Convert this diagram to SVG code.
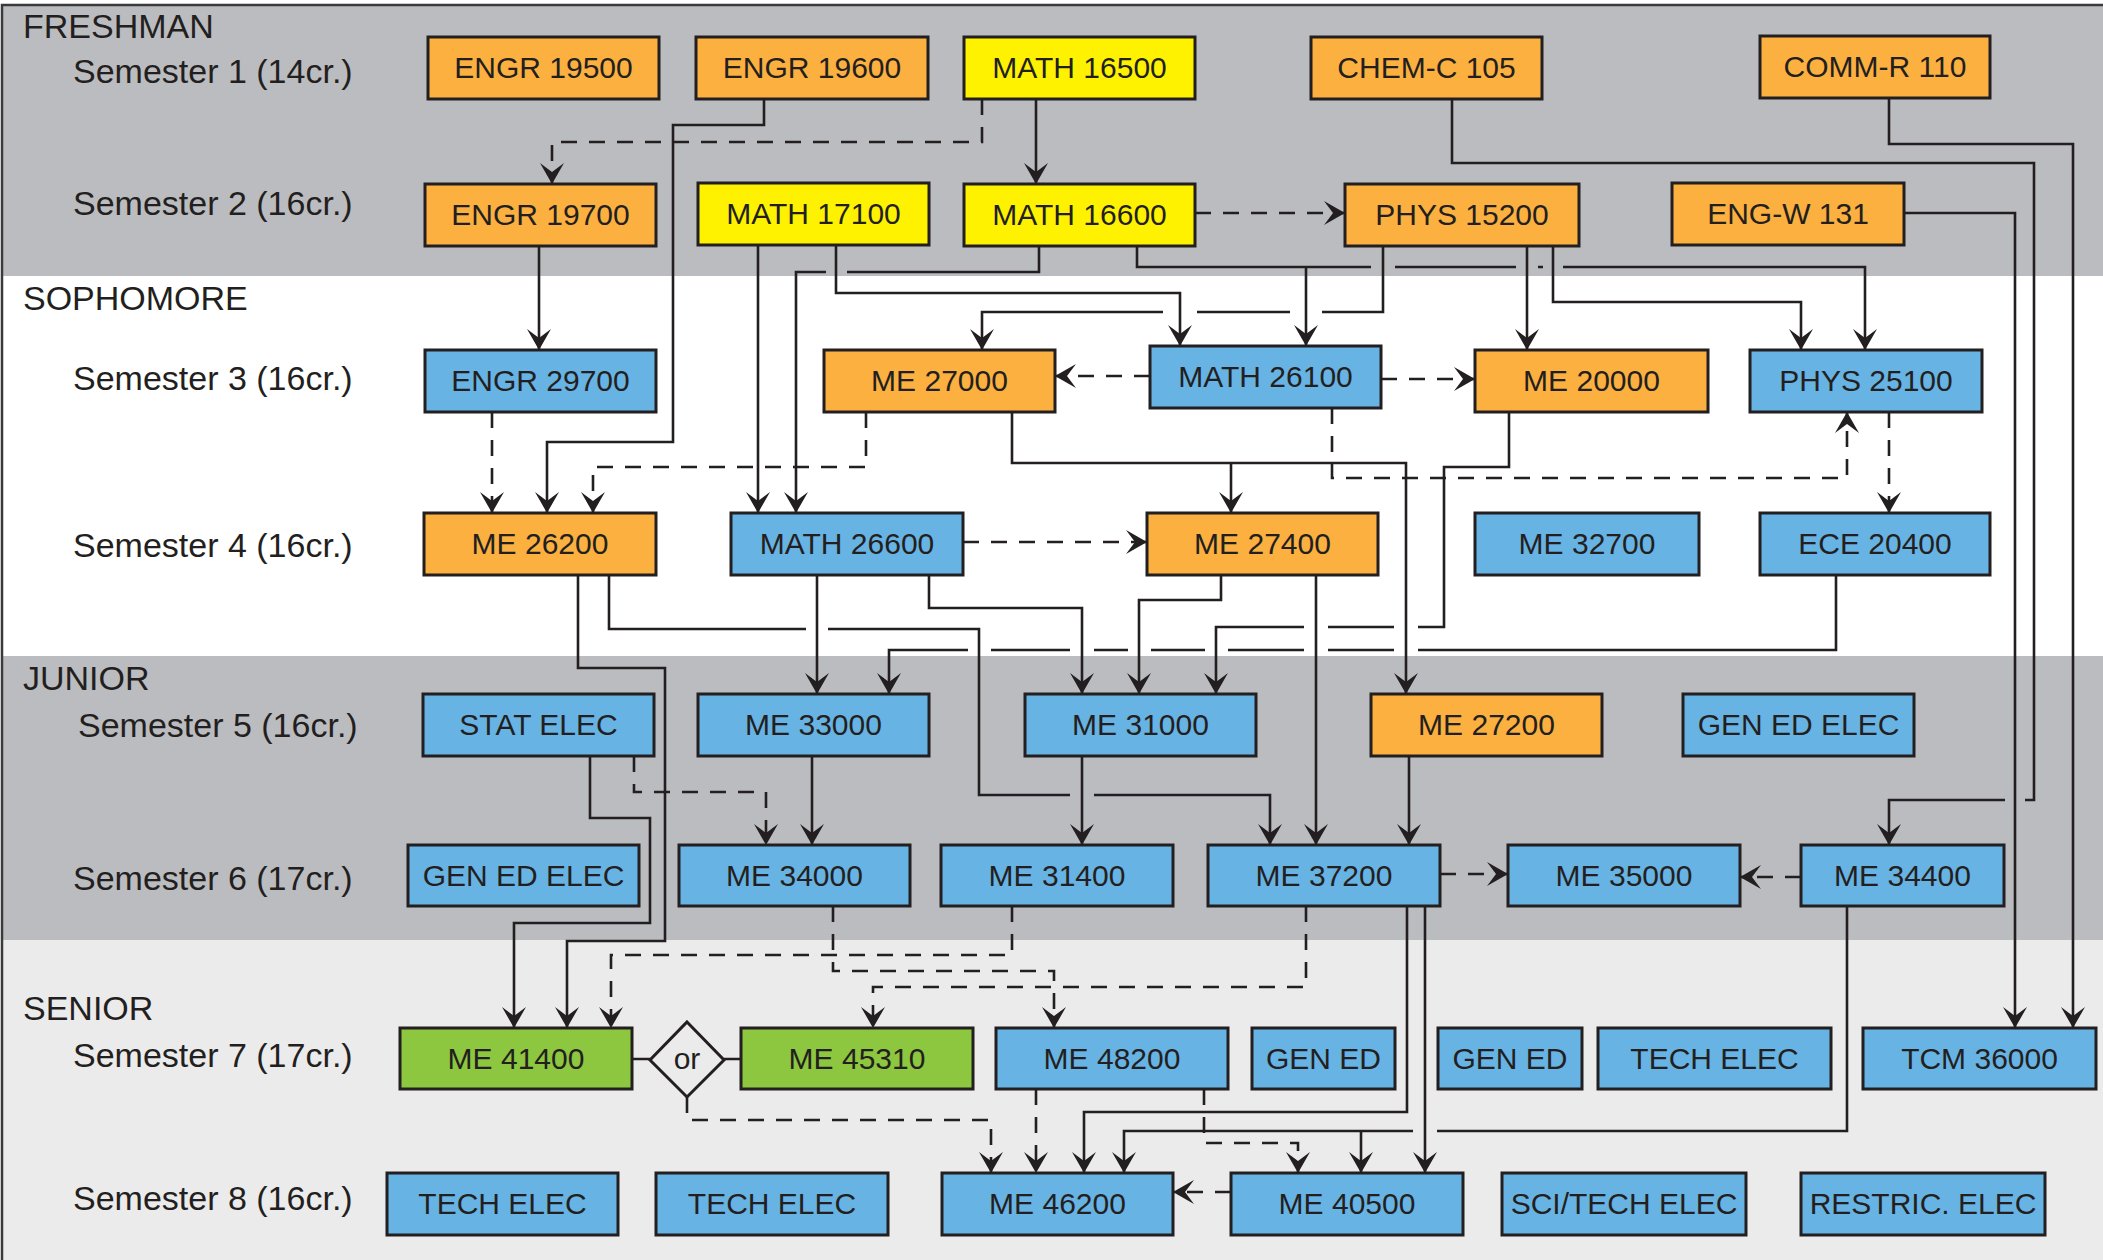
<svg xmlns="http://www.w3.org/2000/svg" width="2103" height="1260" viewBox="0 0 2103 1260">
<style>
.n rect{stroke:#231f20;stroke-width:3}
.o{fill:#fbb040}.y{fill:#fff200}.b{fill:#67b3e4}.g{fill:#8dc63f}
.n text{font-family:"Liberation Sans",Arial,sans-serif;font-size:30px;text-anchor:middle;fill:#231f20}
.lbl{font-family:"Liberation Sans",Arial,sans-serif;font-size:34px;fill:#231f20}
#connectors path{fill:none;stroke:#231f20;stroke-width:2.6}
#connectors path.a{marker-end:url(#ah)}
#connectors path.d{stroke-dasharray:16 12}
</style>
<defs>
<marker id="ah" viewBox="-23 -13 24 26" refX="0" refY="0" markerWidth="24" markerHeight="26" orient="auto" markerUnits="userSpaceOnUse">
<path d="M0,0 L-21,-12 L-12,0 L-21,12 Z" fill="#231f20"/>
</marker>
</defs>
<g id="bands">
<rect x="0" y="0" width="2103" height="1260" fill="#ffffff"/>
<rect x="2" y="5" width="2101" height="271" fill="#bbbcbf"/>
<rect x="2" y="276" width="2101" height="380" fill="#ffffff"/>
<rect x="2" y="656" width="2101" height="284" fill="#bbbcbf"/>
<rect x="2" y="940" width="2101" height="320" fill="#ebebeb"/>
<rect x="2" y="5" width="2200" height="1300" fill="none" stroke="#3a3a3a" stroke-width="2.5"/>
</g>
<g id="labels">
<text class="lbl" x="23" y="38">FRESHMAN</text>
<text class="lbl" x="73" y="83">Semester 1 (14cr.)</text>
<text class="lbl" x="73" y="215">Semester 2 (16cr.)</text>
<text class="lbl" x="23" y="310">SOPHOMORE</text>
<text class="lbl" x="73" y="390">Semester 3 (16cr.)</text>
<text class="lbl" x="73" y="557">Semester 4 (16cr.)</text>
<text class="lbl" x="23" y="690">JUNIOR</text>
<text class="lbl" x="78" y="737">Semester 5 (16cr.)</text>
<text class="lbl" x="73" y="890">Semester 6 (17cr.)</text>
<text class="lbl" x="23" y="1020">SENIOR</text>
<text class="lbl" x="73" y="1067">Semester 7 (17cr.)</text>
<text class="lbl" x="73" y="1210">Semester 8 (16cr.)</text>
</g>
<g id="connectors">
<path class="a" d="M764,99 V125 H673 V442 H547 V513"/>
<path class="a d" d="M982,99 V142 H552 V184"/>
<path class="a" d="M1036,99 V184"/>
<path class="a" d="M539,246 V350"/>
<path class="a d" d="M1195,213 H1345"/>
<path class="a" d="M758,244 V513"/>
<path class="a" d="M1039,245 V272 H847 M826,272 H796 V513"/>
<path class="a" d="M836,244 V293 H1180 V346"/>
<path class="a" d="M1137,245 V267 H1371 M1395,267 H1516 M1538,267 H1543 M1563,267 H1865 V350"/>
<path class="a" d="M1306,267 V346"/>
<path class="a" d="M1383,246 V312 H1322 M1290,312 H1197 M1163,312 H982 V350"/>
<path class="a" d="M1527,246 V350"/>
<path class="a" d="M1553,246 V302 H1801 V350"/>
<path class="a" d="M1452,99 V163 H2034 V800 H2025 M2005,800 H1889 V845"/>
<path class="a" d="M1889,98 V144 H2073 V1028"/>
<path class="a" d="M1904,213 H2015 V1028"/>
<path class="a d" d="M1150,376 H1055"/>
<path class="a d" d="M1381,379 H1475"/>
<path class="a d" d="M492,412 V513"/>
<path class="a d" d="M866,412 V467 H593 V513"/>
<path class="a" d="M1012,412 V463 H1406 V694"/>
<path class="a" d="M1231,463 V513"/>
<path class="a d" d="M1332,408 V478 H1847 V412"/>
<path class="a d" d="M1889,412 V513"/>
<path class="a" d="M1509,412 V467 H1444 V627 H1418 M1394,627 H1328 M1304,627 H1216 V694"/>
<path class="a d" d="M963,542 H1147"/>
<path class="a" d="M817,575 V694"/>
<path class="a" d="M929,575 V608 H1082 V694"/>
<path class="a" d="M1221,575 V600 H1139 V694"/>
<path class="a" d="M1316,575 V845"/>
<path class="a" d="M1836,575 V650 H1418 M1394,650 H1328 M1304,650 H1228 M1205,650 H1151 M1128,650 H1094 M1070,650 H991 M968,650 H889 V694"/>
<path class="a" d="M609,575 V629 H806 M828,629 H979 V795 H1070 M1094,795 H1270 V845"/>
<path class="a" d="M578,575 V668 H665 V941 H567 V1028"/>
<path class="a" d="M590,756 V818 H650 V923 H514 V1028"/>
<path class="a d" d="M634,756 V792 H766 V845"/>
<path class="a" d="M812,756 V845"/>
<path class="a" d="M1082,756 V845"/>
<path class="a" d="M1409,756 V845"/>
<path class="a d" d="M1440,874 H1508"/>
<path class="a d" d="M1801,877 H1740"/>
<path class="a d" d="M1012,906 V955 H611 V1028"/>
<path class="a d" d="M833,906 V971 H1054 V1028"/>
<path class="a d" d="M1306,906 V987 H873 V1028"/>
<path class="a d" d="M687,1097 V1120 H991 V1173"/>
<path class="a d" d="M1036,1089 V1173"/>
<path class="a" d="M1407,906 V1112 H1084 V1173"/>
<path class="a" d="M1425,906 V1173"/>
<path class="a" d="M1847,906 V1131 H1437 M1413,1131 H1124 V1173"/>
<path class="a" d="M1361,1131 V1173"/>
<path class="a d" d="M1204,1089 V1143 H1298 V1173"/>
<path class="a d" d="M1231,1192 H1173"/>
<path d="M632,1059 H650 M724,1059 H741"/>
</g>
<g id="nodes">
<g id="engr19500" class="n"><rect class="o" x="428" y="37" width="231" height="62"/><text x="543.5" y="78">ENGR 19500</text></g>
<g id="engr19600" class="n"><rect class="o" x="696" y="37" width="232" height="62"/><text x="812" y="78">ENGR 19600</text></g>
<g id="math16500" class="n"><rect class="y" x="964" y="37" width="231" height="62"/><text x="1079.5" y="78">MATH 16500</text></g>
<g id="chemc105" class="n"><rect class="o" x="1311" y="37" width="231" height="62"/><text x="1426.5" y="78">CHEM-C 105</text></g>
<g id="commr110" class="n"><rect class="o" x="1760" y="36" width="230" height="62"/><text x="1875" y="77">COMM-R 110</text></g>
<g id="engr19700" class="n"><rect class="o" x="425" y="184" width="231" height="62"/><text x="540.5" y="225">ENGR 19700</text></g>
<g id="math17100" class="n"><rect class="y" x="698" y="183" width="231" height="62"/><text x="813.5" y="224">MATH 17100</text></g>
<g id="math16600" class="n"><rect class="y" x="964" y="184" width="231" height="62"/><text x="1079.5" y="225">MATH 16600</text></g>
<g id="phys15200" class="n"><rect class="o" x="1345" y="184" width="234" height="62"/><text x="1462" y="225">PHYS 15200</text></g>
<g id="engw131" class="n"><rect class="o" x="1672" y="183" width="232" height="62"/><text x="1788" y="224">ENG-W 131</text></g>
<g id="engr29700" class="n"><rect class="b" x="425" y="350" width="231" height="62"/><text x="540.5" y="391">ENGR 29700</text></g>
<g id="me27000" class="n"><rect class="o" x="824" y="350" width="231" height="62"/><text x="939.5" y="391">ME 27000</text></g>
<g id="math26100" class="n"><rect class="b" x="1150" y="346" width="231" height="62"/><text x="1265.5" y="387">MATH 26100</text></g>
<g id="me20000" class="n"><rect class="o" x="1475" y="350" width="233" height="62"/><text x="1591.5" y="391">ME 20000</text></g>
<g id="phys25100" class="n"><rect class="b" x="1750" y="350" width="232" height="62"/><text x="1866" y="391">PHYS 25100</text></g>
<g id="me26200" class="n"><rect class="o" x="424" y="513" width="232" height="62"/><text x="540" y="554">ME 26200</text></g>
<g id="math26600" class="n"><rect class="b" x="731" y="513" width="232" height="62"/><text x="847" y="554">MATH 26600</text></g>
<g id="me27400" class="n"><rect class="o" x="1147" y="513" width="231" height="62"/><text x="1262.5" y="554">ME 27400</text></g>
<g id="me32700" class="n"><rect class="b" x="1475" y="513" width="224" height="62"/><text x="1587" y="554">ME 32700</text></g>
<g id="ece20400" class="n"><rect class="b" x="1760" y="513" width="230" height="62"/><text x="1875" y="554">ECE 20400</text></g>
<g id="statelec" class="n"><rect class="b" x="423" y="694" width="231" height="62"/><text x="538.5" y="735">STAT ELEC</text></g>
<g id="me33000" class="n"><rect class="b" x="698" y="694" width="231" height="62"/><text x="813.5" y="735">ME 33000</text></g>
<g id="me31000" class="n"><rect class="b" x="1025" y="694" width="231" height="62"/><text x="1140.5" y="735">ME 31000</text></g>
<g id="me27200" class="n"><rect class="o" x="1371" y="694" width="231" height="62"/><text x="1486.5" y="735">ME 27200</text></g>
<g id="genedelec5" class="n"><rect class="b" x="1683" y="694" width="231" height="62"/><text x="1798.5" y="735">GEN ED ELEC</text></g>
<g id="genedelec6" class="n"><rect class="b" x="408" y="845" width="231" height="61"/><text x="523.5" y="886">GEN ED ELEC</text></g>
<g id="me34000" class="n"><rect class="b" x="679" y="845" width="231" height="61"/><text x="794.5" y="886">ME 34000</text></g>
<g id="me31400" class="n"><rect class="b" x="941" y="845" width="232" height="61"/><text x="1057" y="886">ME 31400</text></g>
<g id="me37200" class="n"><rect class="b" x="1208" y="845" width="232" height="61"/><text x="1324" y="886">ME 37200</text></g>
<g id="me35000" class="n"><rect class="b" x="1508" y="845" width="232" height="61"/><text x="1624" y="886">ME 35000</text></g>
<g id="me34400" class="n"><rect class="b" x="1801" y="845" width="203" height="61"/><text x="1902.5" y="886">ME 34400</text></g>
<g id="me41400" class="n"><rect class="g" x="400" y="1028" width="232" height="61"/><text x="516" y="1069">ME 41400</text></g>
<g id="or" class="n"><polygon points="687,1022 724,1060 687,1097 650,1060" fill="none" stroke="#231f20" stroke-width="3"/><text x="687" y="1069">or</text></g>
<g id="me45310" class="n"><rect class="g" x="741" y="1028" width="232" height="61"/><text x="857" y="1069">ME 45310</text></g>
<g id="me48200" class="n"><rect class="b" x="996" y="1028" width="232" height="61"/><text x="1112" y="1069">ME 48200</text></g>
<g id="gened7a" class="n"><rect class="b" x="1252" y="1028" width="143" height="61"/><text x="1323.5" y="1069">GEN ED</text></g>
<g id="gened7b" class="n"><rect class="b" x="1438" y="1028" width="144" height="61"/><text x="1510" y="1069">GEN ED</text></g>
<g id="techelec7" class="n"><rect class="b" x="1598" y="1028" width="233" height="61"/><text x="1714.5" y="1069">TECH ELEC</text></g>
<g id="tcm36000" class="n"><rect class="b" x="1863" y="1028" width="233" height="61"/><text x="1979.5" y="1069">TCM 36000</text></g>
<g id="techelec8a" class="n"><rect class="b" x="387" y="1173" width="231" height="62"/><text x="502.5" y="1214">TECH ELEC</text></g>
<g id="techelec8b" class="n"><rect class="b" x="656" y="1173" width="232" height="62"/><text x="772" y="1214">TECH ELEC</text></g>
<g id="me46200" class="n"><rect class="b" x="942" y="1173" width="231" height="62"/><text x="1057.5" y="1214">ME 46200</text></g>
<g id="me40500" class="n"><rect class="b" x="1231" y="1173" width="232" height="62"/><text x="1347" y="1214">ME 40500</text></g>
<g id="scitechelec" class="n"><rect class="b" x="1502" y="1173" width="244" height="62"/><text x="1624" y="1214">SCI/TECH ELEC</text></g>
<g id="restricelec" class="n"><rect class="b" x="1801" y="1173" width="244" height="62"/><text x="1923" y="1214">RESTRIC. ELEC</text></g>
</g>
</svg>
